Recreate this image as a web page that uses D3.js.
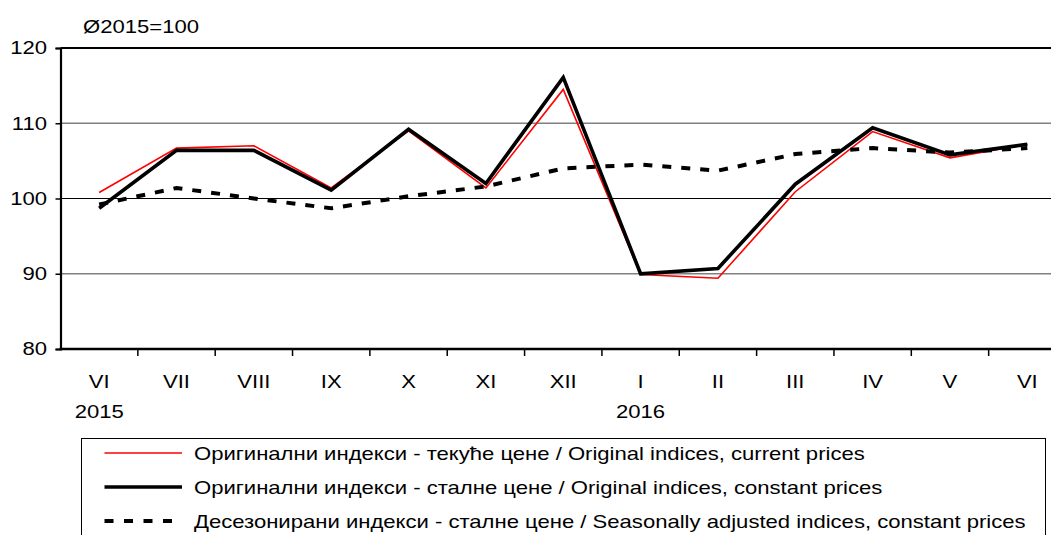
<!DOCTYPE html>
<html><head><meta charset="utf-8">
<script src="https://cdn.jsdelivr.net/npm/d3@7"></script>
<style>body{margin:0;background:#fff}svg{display:block;font-family:"Liberation Sans",Arial,sans-serif}</style>
</head><body>
<svg id="c" width="1051" height="535"></svg>
<script>
const months = ["VI","VII","VIII","IX","X","XI","XII","I","II","III","IV","V","VI"];
const years = [{idx:0,label:"2015"},{idx:7,label:"2016"}];
const currentPrices = [100.8,106.7,107.0,101.4,109.0,101.4,114.5,89.9,89.4,100.9,108.9,105.4,107.2];
const constantPrices = [98.7,106.4,106.4,101.1,109.2,102.0,116.1,90.0,90.7,101.9,109.4,105.8,107.2];
const seasonallyAdj = [99.2,101.4,100.0,98.7,100.3,101.6,104.0,104.5,103.7,105.9,106.7,106.1,106.7];
const yTicks = [80,90,100,110,120];
const legendLabels = [
  "Оригинални индекси - текуће цене / Original indices, current prices",
  "Оригинални индекси - сталне цене / Original indices, constant prices",
  "Десезонирани индекси - сталне цене / Seasonally adjusted indices, constant prices"
];

const SX = 1.2, FS = 18.4;
const svg = d3.select("#c");
const x0 = 60.5, x1 = 1066, yTop = 48, yBot = 349;
const idx = months.map((d,i)=>i);
const xb = d3.scaleBand().domain(idx).range([x0,x1]);
const x = i => xb(i) + xb.bandwidth()/2;
const y = d3.scaleLinear().domain([80,120]).range([yBot,yTop]);

function label(g, tx, ty, text, anchor){
  return g.append("text").attr("transform",`translate(${tx},${ty}) scale(${SX},1)`)
    .attr("text-anchor",anchor||"start").attr("font-size",FS).attr("fill","#000").text(text);
}

// gridlines
const gridStyle = {90:["#808080",1.5],100:["#000",1.2],110:["#808080",1.5],120:["#000",1.8]};
yTicks.filter(t=>t>80).forEach(t=>{
  svg.append("line").attr("x1",x0).attr("x2",1051).attr("y1",y(t)).attr("y2",y(t))
    .attr("stroke",gridStyle[t][0]).attr("stroke-width",gridStyle[t][1]);
});

// y axis
const ya = svg.append("g").attr("transform",`translate(${x0},0)`)
  .call(d3.axisLeft(y).tickValues(yTicks).tickSize(5).tickPadding(9));
ya.select(".domain").attr("stroke","#000").attr("stroke-width",2.2);
ya.selectAll(".tick line").attr("stroke","#000").attr("stroke-width",1.5);
ya.selectAll(".tick text").attr("font-size",FS).attr("font-family","Liberation Sans, Arial, sans-serif")
  .attr("fill","#000").attr("transform",`scale(${SX},1)`).attr("x",-13.5/SX);

// x axis
svg.append("line").attr("x1",x0-1).attr("x2",1051).attr("y1",yBot).attr("y2",yBot).attr("stroke","#000").attr("stroke-width",2.5);
idx.slice(1).forEach(i=>{
  svg.append("line").attr("x1",xb(i)).attr("x2",xb(i)).attr("y1",yBot).attr("y2",yBot+7).attr("stroke","#000").attr("stroke-width",1.5);
});
const gx = svg.append("g");
months.forEach((m,i)=>label(gx, x(i), 388, m, "middle"));
years.forEach(d=>label(gx, x(d.idx), 418, d.label, "middle"));

label(svg, 83, 33, "Ø2015=100");

const line = d3.line().x((d,i)=>x(i)).y(d=>y(d));
svg.append("path").datum(currentPrices).attr("d",line).attr("fill","none").attr("stroke","#ff0000").attr("stroke-width",1.6);
svg.append("path").datum(constantPrices).attr("d",line).attr("fill","none").attr("stroke","#000").attr("stroke-width",3.6).attr("stroke-linejoin","miter");
svg.append("path").datum(seasonallyAdj).attr("d",line).attr("fill","none").attr("stroke","#000").attr("stroke-width",4).attr("stroke-dasharray","9,10");

// legend
svg.append("rect").attr("x",81.5).attr("y",438.5).attr("width",964).attr("height",110).attr("fill","#fff").attr("stroke","#000").attr("stroke-width",1);
const styles = [{c:"#ff0000",w:1.6,d:null},{c:"#000",w:3.6,d:null},{c:"#000",w:4,d:"9,10.5"}];
const rowsY = [453,487,521];
legendLabels.forEach((t,i)=>{
  svg.append("line").attr("x1",104.5).attr("x2",182).attr("y1",rowsY[i]).attr("y2",rowsY[i])
    .attr("stroke",styles[i].c).attr("stroke-width",styles[i].w).attr("stroke-dasharray",styles[i].d);
  label(svg, 194, rowsY[i]+6.5, t);
});
</script>
</body></html>
